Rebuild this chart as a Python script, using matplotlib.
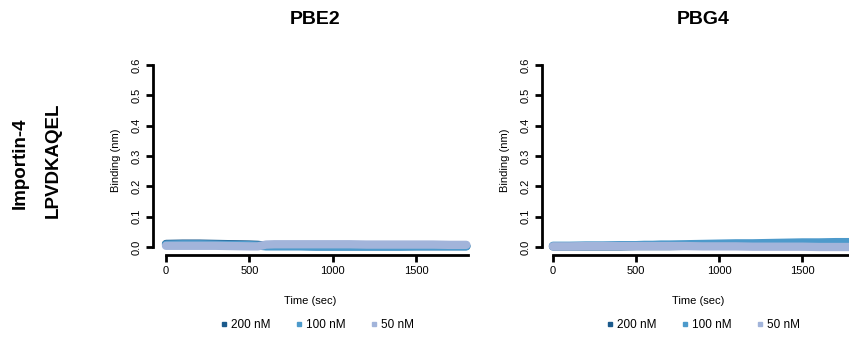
import matplotlib
matplotlib.use("Agg")
import matplotlib.pyplot as plt
from matplotlib.lines import Line2D

plt.rcParams['font.family'] = ['Liberation Sans', 'DejaVu Sans']

# ---- data ----
time_sec = [0, 100, 200, 300, 400, 500, 550, 600, 650, 700, 800, 900, 1000,
            1100, 1200, 1300, 1400, 1500, 1600, 1700, 1800]
concentrations = ["200 nM", "100 nM", "50 nM"]
colors = ["#1b5a8c", "#4d9acb", "#a2b4da"]

pbe2_200 = [0.010, 0.011, 0.011, 0.010, 0.009, 0.008, 0.007, 0.004, 0.004, 0.004, 0.004,
            0.003, 0.003, 0.003, 0.003, 0.003, 0.003, 0.003, 0.003, 0.003, 0.003]
pbe2_100 = [0.008, 0.009, 0.009, 0.008, 0.007, 0.006, 0.005, 0.002, 0.002, 0.002, 0.002,
            0.001, 0.001, 0.001, 0.001, 0.001, 0.001, 0.002, 0.002, 0.002, 0.002]
pbe2_50 = [0.004, 0.004, 0.004, 0.004, 0.003, 0.002, 0.002, 0.008, 0.009, 0.009, 0.009,
           0.009, 0.009, 0.009, 0.008, 0.008, 0.008, 0.008, 0.008, 0.007, 0.007]

pbg4_200 = [0.002, 0.002, 0.002, 0.002, 0.002, 0.003, 0.003, 0.003, 0.003, 0.003, 0.004,
            0.004, 0.004, 0.004, 0.004, 0.004, 0.004, 0.004, 0.004, 0.004, 0.004]
pbg4_100 = [0.004, 0.004, 0.005, 0.005, 0.006, 0.006, 0.007, 0.007, 0.008, 0.008, 0.009,
            0.010, 0.011, 0.012, 0.012, 0.013, 0.014, 0.015, 0.015, 0.016, 0.016]
pbg4_50 = [0.002, 0.002, 0.003, 0.003, 0.003, 0.003, 0.003, 0.003, 0.003, 0.003, 0.003,
           0.002, 0.002, 0.002, 0.001, 0.001, 0.001, 0.001, 0.000, 0.000, 0.000]

panels = [
    ("PBE2", [pbe2_200, pbe2_100, pbe2_50]),
    ("PBG4", [pbg4_200, pbg4_100, pbg4_50]),
]

x_ticks = [0, 500, 1000, 1500]
y_ticks = [0.0, 0.1, 0.2, 0.3, 0.4, 0.5, 0.6]

fig = plt.figure(figsize=(8.49, 3.39), dpi=100)

H = 339.0
W = 849.0
bottom = (H - 255) / H
height = (255 - 65) / H
axes_specs = [
    dict(left=153 / W, width=(468 - 153) / W, xmin=-78, title_x=315 / W, leg_x=316 / W),
    dict(left=542 / W, width=(854 - 542) / W, xmin=-66, title_x=703 / W, leg_x=702 / W),
]

for (title, series), spec in zip(panels, axes_specs):
    ax = fig.add_axes([spec["left"], bottom, spec["width"], height])
    for vals, c in zip(series, colors):
        ax.plot(time_sec, vals, color=c, lw=6.0, solid_capstyle='round',
                solid_joinstyle='round', clip_on=False)
    ax.set_xlim(spec["xmin"], 1810)
    ax.set_ylim(-0.0264, 0.6)
    for s in ["top", "right"]:
        ax.spines[s].set_visible(False)
    ax.spines["left"].set_bounds(0, 0.6)
    ax.spines["bottom"].set_bounds(0, 1810)
    for s in ["left", "bottom"]:
        ax.spines[s].set_linewidth(2.0)
    ax.set_xticks(x_ticks)
    ax.set_yticks(y_ticks)
    ax.set_yticklabels([f"{v:.1f}" for v in y_ticks], rotation=90, va="center")
    ax.tick_params(axis="both", length=5, width=2.0, labelsize=8, pad=3)
    ax.set_xlabel("Time (sec)", fontsize=8, labelpad=14)
    ax.set_ylabel("Binding (nm)", fontsize=8, labelpad=8)
    ax.patch.set_alpha(0)
    fig.text(spec["title_x"], 1 - 20 / H, title, ha="center", va="center",
             fontsize=14, fontweight="bold")
    handles = [Line2D([], [], marker="s", ls="none", color=c, markersize=3)
               for c in colors]
    fig.legend(handles, concentrations, loc="center", ncol=3, frameon=False,
               bbox_to_anchor=(spec["leg_x"], 1 - 325 / H), fontsize=8.5,
               handletextpad=0.1, columnspacing=1.9, handlelength=1.0)

fig.text(20 / W, 1 - 163 / H, "Importin-4", rotation=90, ha="center", va="center",
         fontsize=13.5, fontweight="bold")
fig.text(53 / W, 1 - 160 / H, "LPVDKAQEL", rotation=90, ha="center", va="center",
         fontsize=13.5, fontweight="bold")

fig.savefig("out.png", dpi=100)
